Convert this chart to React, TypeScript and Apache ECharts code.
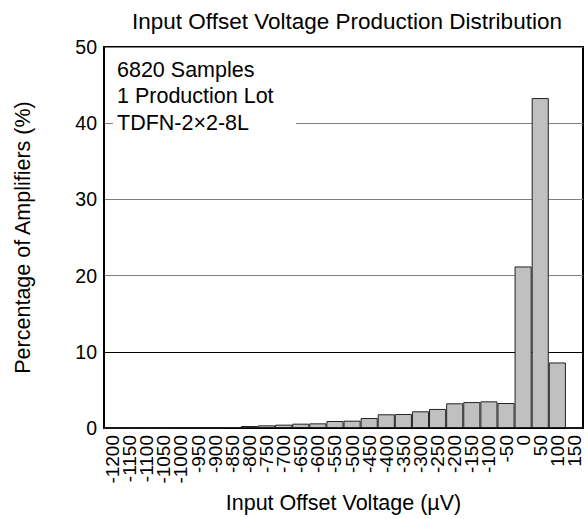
import React, { useEffect, useRef } from "react";
import * as echarts from "echarts";

const categories = [
  "-1200", "-1150", "-1100", "-1050", "-1000", "-950", "-900", "-850",
  "-800", "-750", "-700", "-650", "-600", "-550", "-500", "-450",
  "-400", "-350", "-300", "-250", "-200", "-150", "-100", "-50",
  "0", "50", "100", "150",
];

const percentages = [
  0.01, 0.01, 0.01, 0.02, 0.03, 0.04, 0.06, 0.1,
  0.26, 0.35, 0.44, 0.57, 0.61, 0.92, 0.96, 1.31,
  1.8, 1.84, 2.19, 2.5, 3.24, 3.4, 3.5, 3.28,
  21.2, 43.3, 8.6, 0,
];

const noteLines = ["6820 Samples", "1 Production Lot", "TDFN-2×2-8L"];

const titleText = "Input Offset Voltage Production Distribution";
const xName = "Input Offset Voltage (µV)";
const yName = "Percentage of Amplifiers (%)";

const FONT = "'Liberation Sans', Arial, sans-serif";
const BIG = 21.5;

export default function App() {
  const ref = useRef<HTMLDivElement>(null);
  useEffect(() => {
    if (!ref.current) return;
    const chart = echarts.init(ref.current, null, { renderer: "svg" });
    chart.setOption({
      animation: false,
      backgroundColor: "#ffffff",
      textStyle: { fontFamily: FONT, color: "#000" },
      title: {
        text: titleText,
        left: 342,
        top: 5,
        textAlign: "center",
        textStyle: { fontFamily: FONT, fontSize: 22.5, fontWeight: "normal", color: "#000" },
      },
      grid: {
        left: 104,
        right: 5,
        top: 47,
        bottom: 91,
        show: true,
        borderColor: "#000",
        borderWidth: 2,
        backgroundColor: "transparent",
        containLabel: false,
        outerBoundsMode: "none",
      },
      xAxis: {
        type: "category",
        data: categories,
        boundaryGap: true,
        name: xName,
        nameLocation: "middle",
        nameGap: 64,
        nameTextStyle: { fontFamily: FONT, fontSize: BIG, color: "#000" },
        axisLine: { show: true, lineStyle: { color: "#000", width: 2 } },
        axisTick: { show: false },
        axisLabel: {
          interval: 0,
          rotate: 90,
          margin: 7,
          fontFamily: FONT,
          fontSize: 19,
          color: "#000",
        },
        splitLine: { show: false },
      },
      yAxis: {
        type: "value",
        min: 0,
        max: 50,
        interval: 10,
        name: yName,
        nameLocation: "middle",
        nameGap: 70,
        nameRotate: 90,
        nameTextStyle: { fontFamily: FONT, fontSize: BIG, color: "#000" },
        axisLine: { show: true, lineStyle: { color: "#000", width: 2 } },
        axisTick: { show: false },
        axisLabel: { margin: 7, fontFamily: FONT, fontSize: 19.5, color: "#000" },
        splitLine: { show: true, lineStyle: { color: "#808080", width: 1 } },
      },
      series: [
        {
          type: "bar",
          data: percentages,
          barCategoryGap: "0%",
          itemStyle: { color: "#c0c0c0", borderColor: "#222", borderWidth: 1 },
          markLine: {
            silent: true,
            symbol: "none",
            label: { show: false },
            lineStyle: { color: "#000", width: 1, type: "solid" },
            data: [{ yAxis: 10 }],
            z: 1,
          },
          z: 3,
        },
      ],
      graphic: [
        {
          type: "rect",
          left: 113,
          top: 55,
          shape: { width: 183, height: 80 },
          style: { fill: "#fff" },
          z: 10,
        },
        {
          type: "text",
          x: 117,
          y: 70,
          style: { text: noteLines[0], font: `${BIG}px ${FONT}`, fill: "#000", verticalAlign: "middle" },
          z: 11,
        },
        {
          type: "text",
          x: 117,
          y: 96,
          style: { text: noteLines[1], font: `${BIG}px ${FONT}`, fill: "#000", verticalAlign: "middle" },
          z: 11,
        },
        {
          type: "text",
          x: 117,
          y: 123,
          style: { text: noteLines[2], font: `${BIG}px ${FONT}`, fill: "#000", verticalAlign: "middle" },
          z: 11,
        },
      ],
    });
    return () => chart.dispose();
  }, []);
  return (
    <div
      ref={ref}
      style={{ position: "fixed", left: 0, top: 0, width: 588, height: 519, background: "#fff" }}
    />
  );
}
